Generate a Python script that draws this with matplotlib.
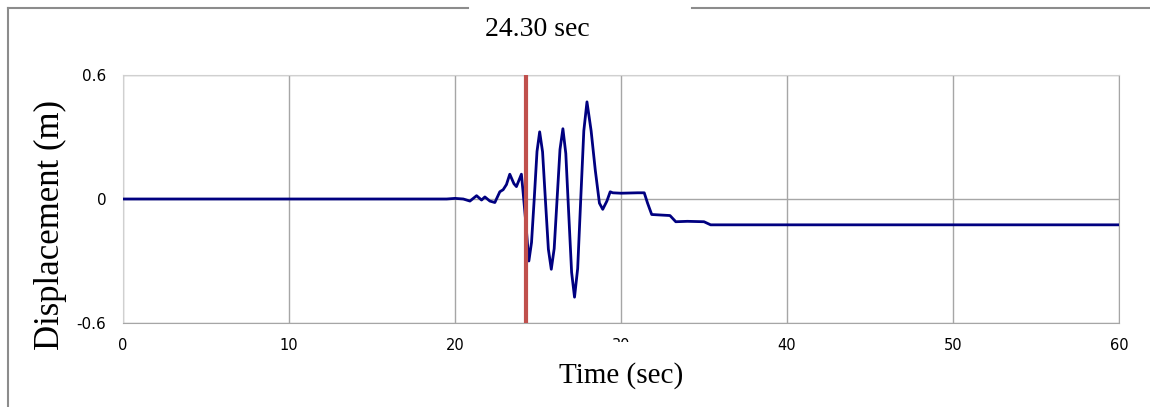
import matplotlib

matplotlib.use("Agg")
import matplotlib.pyplot as plt  # noqa: E402
from matplotlib.lines import Line2D  # noqa: E402

# displacement history (sec, m)
time = [0, 19.5, 20.0, 20.5, 20.9, 21.3, 21.6, 21.8, 22.1, 22.4, 22.7, 22.9,
        23.1, 23.3, 23.55, 23.7, 23.85, 24.0, 24.1, 24.25, 24.45,
        24.61, 24.78, 24.94, 25.1, 25.275, 25.45, 25.625, 25.8,
        25.975, 26.15, 26.325, 26.5, 26.675, 26.85, 27.025, 27.2,
        27.39, 27.575, 27.76, 27.95, 28.2, 28.45, 28.7, 28.9, 29.15, 29.35,
        29.5, 30.0, 31.0, 31.4, 31.6, 31.85, 32.5, 32.95, 33.3, 34.0, 35.0,
        35.4, 60.0]
disp = [0, 0, 0.003, 0.0, -0.01, 0.016, -0.005, 0.01, -0.01, -0.017, 0.035, 0.045,
        0.07, 0.12, 0.074, 0.06, 0.09, 0.12, 0.035, -0.1, -0.30,
        -0.21, 0.01, 0.23, 0.325, 0.228, -0.01, -0.243, -0.34,
        -0.24, 0.0, 0.24, 0.34, 0.22, -0.07, -0.355, -0.475,
        -0.336, 0.0, 0.33, 0.47, 0.33, 0.14, -0.02, -0.05, -0.01, 0.035,
        0.03, 0.028, 0.03, 0.03, -0.02, -0.075, -0.078, -0.08, -0.11, -0.108, -0.11,
        -0.125, -0.125]

snapshot_t = 24.30
xticks = [0, 10, 20, 30, 40, 50, 60]
yticks = [-0.6, 0, 0.6]
yticklabels = ["-0.6", "0", "0.6"]

W, H = 1150, 407
fig = plt.figure(figsize=(W / 100, H / 100), dpi=100)
ax = fig.add_axes([123 / W, 84 / H, 996 / W, 248 / H])

ax.plot(time, disp, color="#000080", lw=2.0, zorder=3, solid_joinstyle="round")
ax.axvline(snapshot_t, color="#C0504D", lw=3.0, zorder=4)

ax.set_xlim(0, 60)
ax.set_ylim(-0.6, 0.6)
ax.set_xticks(xticks)
ax.set_yticks(yticks)
ax.set_yticklabels(yticklabels)
ax.tick_params(length=0)
ax.tick_params(axis="y", pad=12, labelsize=11)
ax.tick_params(axis="x", pad=11, labelsize=10.5)
ax.grid(color="#a6a6a6", lw=1.0)
for s in ("left", "top"):
    ax.spines[s].set_color("#d0d0d0")
for s in ("right", "bottom"):
    ax.spines[s].set_color("#a6a6a6")

# the label's white box clips the "30" tick label, as in the original export
ax.set_xlabel("Time (sec)", family="Liberation Serif", fontsize=21, labelpad=6,
              bbox=dict(fc="white", ec="none", pad=14))
ax.set_ylabel("Displacement (m)", family="Liberation Serif", fontsize=25)
ax.yaxis.set_label_coords(-0.056, 0.395)
fig.text(537 / W, 1 - 29 / H, "24.30 sec", family="Liberation Serif", fontsize=20,
         ha="center", va="center")

# outer chart frame (top edge broken by the title box)
fc = "#8c8c8c"
fig.add_artist(Line2D([8 / W, 8 / W], [0, 1 - 8 / H], color=fc, lw=1.5, transform=fig.transFigure))
fig.add_artist(Line2D([8 / W, 468 / W], [1 - 8 / H, 1 - 8 / H], color=fc, lw=1.5, transform=fig.transFigure))
fig.add_artist(Line2D([692 / W, 1], [1 - 8 / H, 1 - 8 / H], color=fc, lw=1.5, transform=fig.transFigure))

fig.savefig("out.png", dpi=100)
